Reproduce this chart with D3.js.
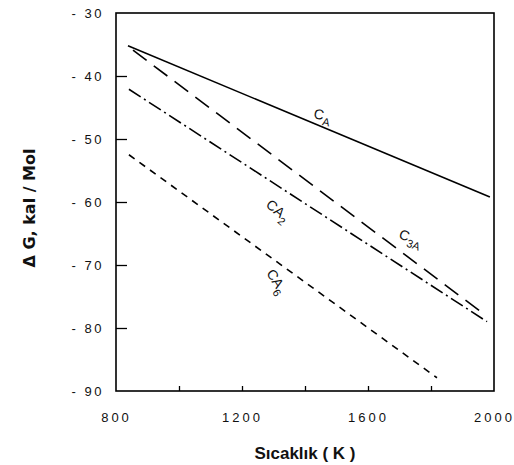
<!DOCTYPE html>
<html><head><meta charset="utf-8">
<script src="https://cdn.jsdelivr.net/npm/d3@7"></script>
<style>body{margin:0;background:#fff}svg{display:block}</style>
</head><body><svg id="c" width="514" height="465"></svg>
<script>
const seriesNames = ["CA", "C3A", "CA2", "CA6"];
const temps = {
  CA:  [838, 1987],
  C3A: [854, 1971],
  CA2: [841, 1978],
  CA6: [841, 1819]
};
const dG = {
  CA:  [-35.2, -59.2],
  C3A: [-35.9, -77.9],
  CA2: [-42.1, -79.0],
  CA6: [-52.5, -87.9]
};
const dashes = {CA: null, C3A: "17,9", CA2: "14,4,2,4", CA6: "7,6"};
const xTicks = [800, 1000, 1200, 1400, 1600, 1800, 2000];
const xTickLabels = [800, 1200, 1600, 2000];
const yTicks = [-30, -40, -50, -60, -70, -80, -90];

const svg = d3.select("#c");
const x = d3.scaleLinear().domain([800, 2000]).range([116, 494]);
const y = d3.scaleLinear().domain([-30, -90]).range([13, 391]);

// frame
svg.append("rect").attr("x", x(800)).attr("y", y(-30))
  .attr("width", x(2000) - x(800)).attr("height", y(-90) - y(-30))
  .attr("fill", "none").attr("stroke", "#000").attr("stroke-width", 1.6);

// x axis (ticks inward)
const xa = svg.append("g").attr("transform", `translate(0,${y(-90)})`)
  .call(d3.axisTop(x).tickValues(xTicks.slice(1, -1)).tickSize(5).tickFormat(""));
xa.select(".domain").remove();
xa.selectAll("line").attr("stroke", "#000").attr("stroke-width", 1.3);

const xl = svg.append("g").attr("transform", `translate(0,${y(-90)})`)
  .call(d3.axisBottom(x).tickValues(xTickLabels).tickSize(0).tickPadding(22)
    .tickFormat(d => String(d)));
xl.select(".domain").remove();
xl.selectAll("text").attr("font-family", "Liberation Sans, Arial, sans-serif")
  .attr("font-size", 13).attr("letter-spacing", "3px").attr("fill", "#111");

// y axis (ticks inward)
const ya = svg.append("g").attr("transform", `translate(${x(800)},0)`)
  .call(d3.axisRight(y).tickValues(yTicks.slice(1, -1)).tickSize(11).tickFormat(""));
ya.select(".domain").remove();
ya.selectAll("line").attr("stroke", "#000").attr("stroke-width", 1.3);

const yl = svg.append("g").attr("transform", `translate(${x(800)},0)`)
  .call(d3.axisLeft(y).tickValues(yTicks).tickSize(0).tickPadding(12)
    .tickFormat(d => "-  " + Math.abs(d)));
yl.select(".domain").remove();
yl.selectAll("text").attr("font-family", "Liberation Sans, Arial, sans-serif")
  .attr("font-size", 13).attr("letter-spacing", "2.5px").attr("fill", "#111");

// lines
const line = d3.line().x(d => x(d[0])).y(d => y(d[1]));
seriesNames.forEach(s => {
  const pts = temps[s].map((t, i) => [t, dG[s][i]]);
  svg.append("path").datum(pts).attr("d", line)
    .attr("fill", "none").attr("stroke", "#000").attr("stroke-width", 1.6)
    .attr("stroke-dasharray", dashes[s]);
});

// curve labels
const lf = "Liberation Sans, Arial, sans-serif";
function lab(px, py, rot, main, sub) {
  const t = svg.append("text").attr("transform", `translate(${px},${py}) rotate(${rot})`)
    .attr("font-family", lf).attr("font-size", 14).attr("fill", "#111");
  t.append("tspan").text(main);
  if (sub) t.append("tspan").attr("dy", 5).attr("font-size", 11).text(sub);
}
lab(313, 118, 12, "C", "A");
lab(398, 238, 20, "C", "3A");
lab(265, 206, 40, "CA", "2");
lab(266, 273, 58, "CA", "6");

// axis titles
svg.append("text").attr("x", 305).attr("y", 459).attr("text-anchor", "middle")
  .attr("font-family", "Liberation Sans, Arial, sans-serif").attr("font-weight", "bold")
  .attr("font-size", 17).attr("fill", "#111").text("Sıcaklık ( K )");
svg.append("text").attr("transform", "translate(35,208) rotate(-90)").attr("text-anchor", "middle")
  .attr("font-family", "DejaVu Sans, sans-serif").attr("font-weight", "bold")
  .attr("font-size", 16).attr("fill", "#111").text("Δ G, kal / Mol");
</script></body></html>
